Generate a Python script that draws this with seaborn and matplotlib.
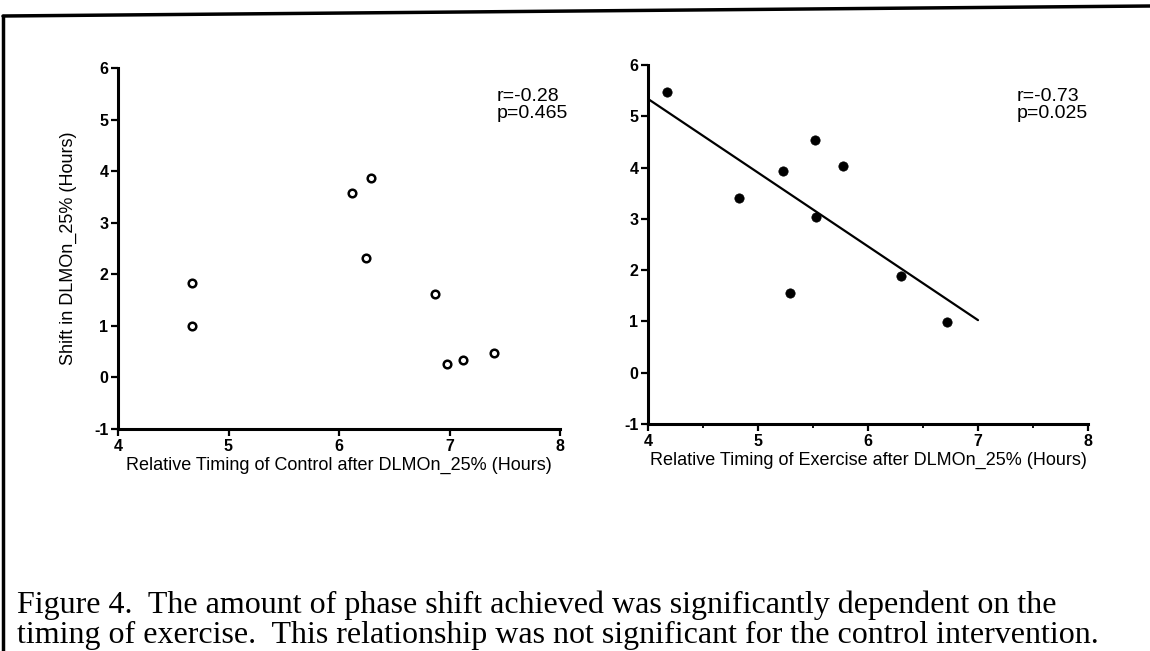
"""
Phase shift vs relative timing of control / exercise (Figure 4).

"""
import numpy as np
import pandas as pd
import matplotlib
matplotlib.use('Agg')
import matplotlib.pyplot as plt
from matplotlib.lines import Line2D
from matplotlib.ticker import MultipleLocator
import seaborn as sns

# values
control_timing = [4.67, 4.67, 6.12, 6.29, 6.24, 6.87, 6.98, 7.12, 7.40]
control_shift = [1.83, 0.99, 3.57, 3.87, 2.31, 1.61, 0.26, 0.33, 0.48]

exercise_timing = [4.17, 4.83, 5.23, 5.29, 5.52, 5.53, 5.77, 6.30, 6.72]
exercise_shift = [5.47, 3.41, 3.94, 1.56, 4.53, 3.03, 4.03, 1.88, 0.99]

control_stats = ['r=-0.28', 'p=0.465']
exercise_stats = ['r=-0.73', 'p=0.025']

x_ticks = [4, 5, 6, 7, 8]
y_ticks = [-1, 0, 1, 2, 3, 4, 5, 6]
fit_end = 7

caption = ('Figure 4.  The amount of phase shift achieved was significantly dependent on the\n'
           'timing of exercise.  This relationship was not significant for the control intervention.')


def style_axis(ax, xlabel, ylabel=None, minor=False):
    """

    """
    sns.despine(ax=ax)
    for side in ['left', 'bottom']:
        ax.spines[side].set_linewidth(2.2)
        ax.spines[side].set_color('black')
    ax.set_xlim(x_ticks[0], x_ticks[-1])
    ax.set_ylim(y_ticks[0], y_ticks[-1])
    ax.set_xticks(x_ticks)
    ax.set_yticks(y_ticks)
    ax.set_xticklabels([str(t) for t in x_ticks])
    ax.set_yticklabels([str(t) for t in y_ticks])
    if minor:
        ax.xaxis.set_minor_locator(MultipleLocator(0.5))
    ax.tick_params(which='both', bottom=True, left=True, direction='out', color='black')
    ax.tick_params(which='major', length=5, width=1.6, labelsize=11.5, pad=2)
    ax.tick_params(which='minor', length=3, width=1.3)
    for lab in ax.get_xticklabels() + ax.get_yticklabels():
        lab.set_fontweight('bold')
    ax.set_xlabel(xlabel, fontsize=13, labelpad=2)
    ax.set_ylabel(ylabel if ylabel else '', fontsize=13, labelpad=12)
    ax.grid(False)


if __name__ == '__main__':

    sns.set_style('white')
    plt.rcParams['font.family'] = ['Liberation Sans', 'DejaVu Sans']
    plt.rcParams['axes.unicode_minus'] = False
    plt.rcParams['text.color'] = 'black'
    plt.rcParams['axes.labelcolor'] = 'black'
    plt.rcParams['xtick.color'] = 'black'
    plt.rcParams['ytick.color'] = 'black'

    control = pd.DataFrame({'timing': control_timing, 'shift': control_shift})
    exercise = pd.DataFrame({'timing': exercise_timing, 'shift': exercise_shift})

    fig = plt.figure(figsize=(11.5, 6.51), dpi=100)
    fig.patch.set_facecolor('white')

    ax1 = fig.add_axes([118 / 1150, 1 - 429 / 651, 442 / 1150, 361 / 651])
    ax2 = fig.add_axes([648 / 1150, 1 - 424 / 651, 440 / 1150, 359 / 651])

    # control: open circles, no fit line
    sns.scatterplot(data=control, x='timing', y='shift', ax=ax1, s=30,
                    marker='o', facecolor='white', edgecolor='black', linewidth=1.8)

    # exercise: filled circles plus least squares line to x=7
    sns.scatterplot(data=exercise, x='timing', y='shift', ax=ax2, s=45,
                    marker='o', color='black', edgecolor='black', linewidth=0.5)
    ax2.set_xlim(x_ticks[0], fit_end)
    sns.regplot(data=exercise, x='timing', y='shift', ax=ax2, scatter=False,
                ci=None, truncate=False, line_kws={'color': 'black', 'lw': 1.6})

    style_axis(ax1, 'Relative Timing of Control after DLMOn_25% (Hours)',
               'Shift in DLMOn_25% (Hours)')
    style_axis(ax2, 'Relative Timing of Exercise after DLMOn_25% (Hours)', minor=True)

    ax1.text(497 / 1150, 1 - 105 / 651, '\n'.join(control_stats), transform=fig.transFigure,
             fontsize=14, va='center', ha='left', linespacing=1.0)
    ax2.text(1017 / 1150, 1 - 105 / 651, '\n'.join(exercise_stats), transform=fig.transFigure,
             fontsize=14, va='center', ha='left', linespacing=1.0)

    fig.text(17 / 1150, 1 - 620 / 651, caption, family=['Liberation Serif', 'DejaVu Serif'],
             fontsize=23, color='black', va='center', ha='left', linespacing=1.05)

    # frame round the figure (left and top edges only, as scanned)
    fig.add_artist(Line2D([3 / 1150, 1], [1 - 16 / 651, 1 - 6 / 651],
                          transform=fig.transFigure, color='black', lw=2.5))
    fig.add_artist(Line2D([3 / 1150, 3 / 1150], [0, 1 - 16 / 651],
                          transform=fig.transFigure, color='black', lw=2.5))

    fig.savefig('out.png', dpi=100, facecolor='white')
    print('Complete')
